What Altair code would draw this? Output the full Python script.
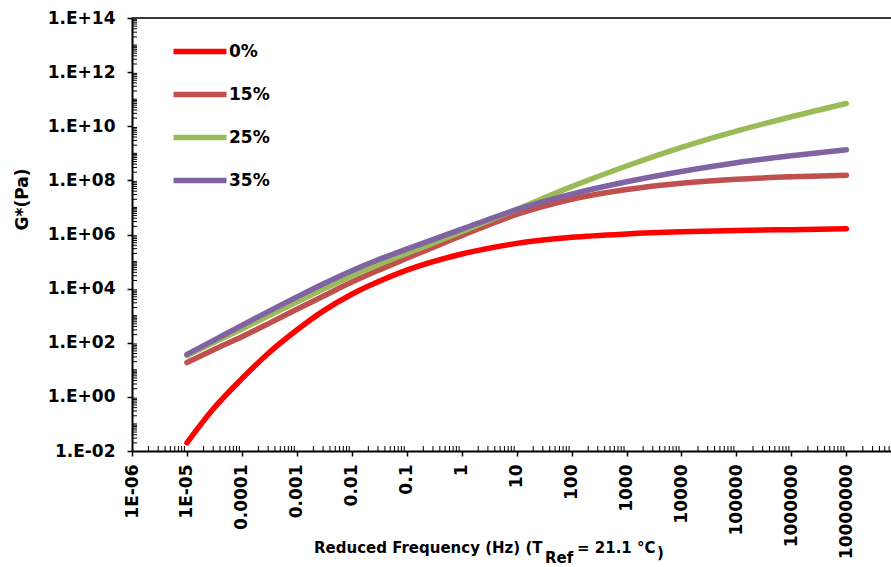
import math

import altair as alt
import pandas as pd

# Reduced frequency (Hz) at which the master curves are tabulated
FREQ_HZ = [1e-5, 3e-5, 1e-4, 3e-4, 1e-3, 3e-3, 1e-2, 3e-2, 1e-1,
           1, 10, 100, 1e3, 1e4, 1e5, 1e6, 1e7]

# |G*| (Pa) for each replacement level
G_0 = [0.02, 0.355, 4.7, 40, 295, 1.48e3, 6.2e3, 1.78e4, 4.8e4,
       1.9e5, 4.7e5, 7.9e5, 1.05e6, 1.26e6, 1.41e6, 1.51e6, 1.62e6]
G_15 = [18.6, 54, 166, 500, 1.74e3, 5.2e3, 1.74e4, 4.7e4, 1.32e5,
        9.1e5, 5.5e6, 2.0e7, 4.6e7, 7.9e7, 1.1e8, 1.35e8, 1.55e8]
G_25 = [34, 100, 324, 980, 3.2e3, 9.5e3, 2.95e4, 7.6e4, 2.0e5,
        1.26e6, 8.5e6, 5.9e7, 3.4e8, 1.66e9, 6.6e9, 2.24e10, 6.9e10]
G_35 = [37, 120, 440, 1.41e3, 4.9e3, 1.48e4, 4.6e4, 1.17e5, 2.9e5,
        1.58e6, 8.3e6, 3.1e7, 8.9e7, 2.14e8, 4.5e8, 8.1e8, 1.35e9]

SERIES = ["0%", "15%", "25%", "35%"]
COLORS = ["#FF0000", "#C0504D", "#9BBB59", "#8064A2"]

X_TICKS = [1e-6, 1e-5, 1e-4, 1e-3, 1e-2, 1e-1, 1, 10, 100, 1e3, 1e4, 1e5, 1e6, 1e7]
X_TICK_LABELS = ["1E-06", "1E-05", "0.0001", "0.001", "0.01", "0.1", "1", "10",
                 "100", "1000", "10000", "100000", "1000000", "10000000"]
Y_TICKS = [1e-2, 1e0, 1e2, 1e4, 1e6, 1e8, 1e10, 1e12, 1e14]
Y_TICK_LABELS = ["1.E-02", "1.E+00", "1.E+02", "1.E+04", "1.E+06",
                 "1.E+08", "1.E+10", "1.E+12", "1.E+14"]

FONT = "DejaVu Sans"
W, H = 759, 433
X_MAX = 6.5e7

rows = []
for name, vals in zip(SERIES, [G_0, G_15, G_25, G_35]):
    for f, g in zip(FREQ_HZ, vals):
        rows.append({"freq": f, "G": g, "series": name})
df = pd.DataFrame(rows)

# minor tick positions on the two log axes (2..9 within each decade)
x_minor = [k * 10.0 ** n for n in range(-6, 8) for k in range(2, 10) if k * 10.0 ** n <= X_MAX]
y_minor = [k * 10.0 ** n for n in range(-2, 14) for k in range(1, 10)
           if not (k == 1 and n % 2 == 0)]


def label_expr(values, labels):
    parts = [f"round(log(datum.value)/LN10) == {round(math.log10(v))} ? '{t}'"
             for v, t in zip(values, labels)]
    return " : ".join(parts) + " : ''"


x_scale = alt.Scale(type="log", domain=[1e-6, X_MAX], nice=False)
y_scale = alt.Scale(type="log", domain=[1e-2, 1e14], nice=False)

x_axis = alt.Axis(
    values=X_TICKS, labelExpr=label_expr(X_TICKS, X_TICK_LABELS),
    labelAngle=-90, labelFont=FONT, labelFontSize=17, labelFontWeight="bold",
    labelColor="black", labelPadding=8, labelOverlap=False, labelFlush=False,
    tickSize=5, tickColor="black", tickWidth=1.5,
    domainColor="black", domainWidth=2, grid=False, title=None,
)
y_axis = alt.Axis(
    values=Y_TICKS, labelExpr=label_expr(Y_TICKS, Y_TICK_LABELS),
    labelFont=FONT, labelFontSize=17, labelFontWeight="bold",
    labelColor="black", labelPadding=12, labelOverlap=False, labelFlush=False,
    tickSize=5, tickColor="black", tickWidth=1.5,
    domainColor="black", domainWidth=2, grid=False,
    title="G*(Pa)", titleFont=FONT, titleFontSize=17, titleFontWeight="bold",
    titleColor="black", titleAngle=270, titleAlign="center", titleBaseline="middle",
    titleX=-109.5, titleY=181,
)

legend = alt.Legend(
    title=None, orient="none", legendX=52, legendY=17.5,
    symbolType="M-2,0H2", symbolSize=702, symbolStrokeWidth=5.5,
    labelFont=FONT, labelFontSize=17, labelFontWeight="bold", labelColor="black",
    rowPadding=16, labelOffset=13, padding=0, offset=0,
)

lines = alt.Chart(df).mark_line(
    strokeWidth=5.5, strokeCap="round", strokeJoin="round",
    interpolate="monotone", clip=True,
).encode(
    x=alt.X("freq:Q", scale=x_scale, axis=x_axis),
    y=alt.Y("G:Q", scale=y_scale, axis=y_axis),
    color=alt.Color("series:N", scale=alt.Scale(domain=SERIES, range=COLORS),
                    sort=SERIES, legend=legend),
)

x_minor_ticks = alt.Chart(pd.DataFrame({"freq": x_minor})).mark_rule(
    color="black", strokeWidth=1
).encode(
    x=alt.X("freq:Q", scale=x_scale, axis=x_axis),
    y=alt.value(H), y2=alt.value(H - 5),
)

y_minor_ticks = alt.Chart(pd.DataFrame({"G": y_minor})).mark_rule(
    color="black", strokeWidth=1
).encode(
    y=alt.Y("G:Q", scale=y_scale, axis=y_axis),
    x=alt.value(0), x2=alt.value(5),
)

one = pd.DataFrame({"k": [0]})
top_border = alt.Chart(one).mark_rule(color="black", strokeWidth=1.5).encode(
    x=alt.value(0), x2=alt.value(W), y=alt.value(0)
)


def title_piece(text, x, y, size=15):
    return alt.Chart(one).mark_text(
        text=text, align="left", baseline="middle", font=FONT,
        fontSize=size, fontWeight="bold", color="black",
    ).encode(x=alt.value(x), y=alt.value(y))


x_title = [
    title_piece("Reduced Frequency (Hz) (T", 182, 530),
    title_piece("Ref", 413, 540),
    title_piece("= 21.1 °C", 445, 530),
    title_piece(")", 525, 535),
]

chart = alt.layer(
    y_minor_ticks, x_minor_ticks, top_border, lines, *x_title
).properties(
    width=W, height=H,
    padding={"left": 132, "top": 18, "right": 0, "bottom": 116},
    autosize=alt.AutoSizeParams(type="none"),
).configure_view(stroke=None).configure(font=FONT)

chart.save("out.html", embed_options={"renderer": "svg", "actions": False})
